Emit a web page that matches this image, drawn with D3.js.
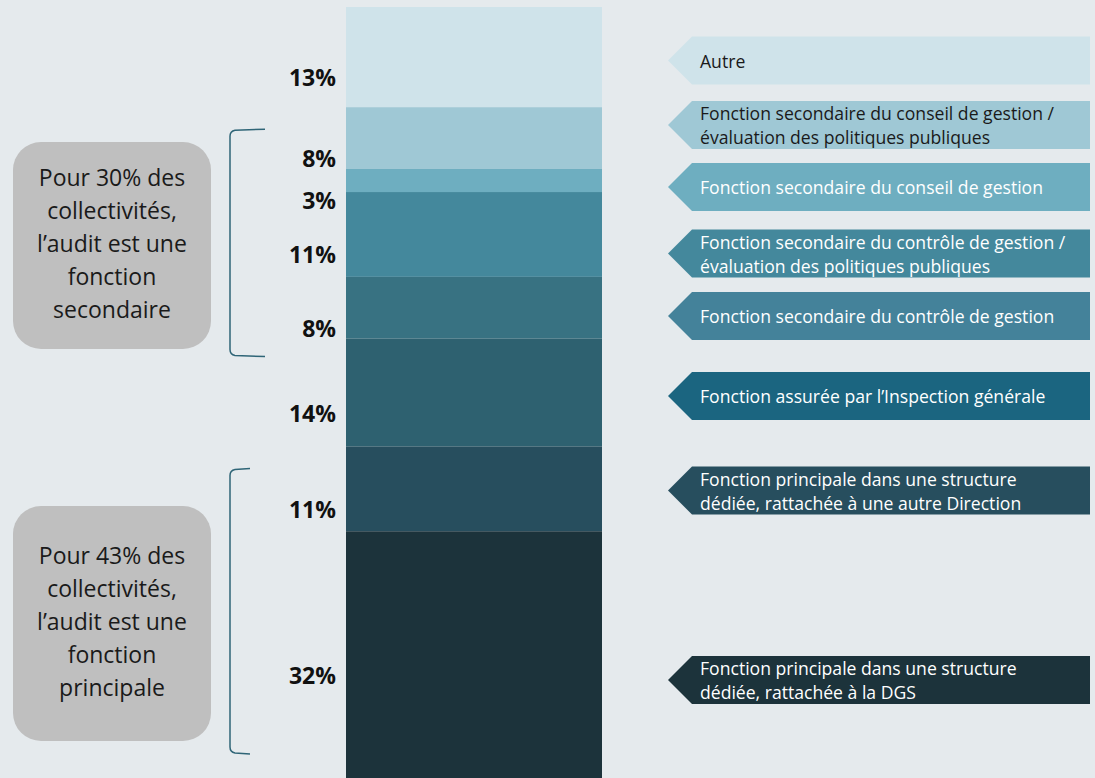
<!DOCTYPE html>
<html>
<head>
<meta charset="utf-8">
<script src="https://cdn.jsdelivr.net/npm/d3@7"></script>
<style>
  html, body { margin: 0; padding: 0; background: #e5eaed; }
  svg { display: block; }
</style>
</head>
<body>
<div id="chart"></div>
<script>
// ---- Data ----
const categories = [
  "Autre",
  "Fonction secondaire du conseil de gestion / évaluation des politiques publiques",
  "Fonction secondaire du conseil de gestion",
  "Fonction secondaire du contrôle de gestion / évaluation des politiques publiques",
  "Fonction secondaire du contrôle de gestion",
  "Fonction assurée par l’Inspection générale",
  "Fonction principale dans une structure dédiée, rattachée à une autre Direction",
  "Fonction principale dans une structure dédiée, rattachée à la DGS"
];
const legendLines = [
  ["Autre"],
  ["Fonction secondaire du conseil de gestion /", "évaluation des politiques publiques"],
  ["Fonction secondaire du conseil de gestion"],
  ["Fonction secondaire du contrôle de gestion /", "évaluation des politiques publiques"],
  ["Fonction secondaire du contrôle de gestion"],
  ["Fonction assurée par l’Inspection générale"],
  ["Fonction principale dans une structure", "dédiée, rattachée à une autre Direction"],
  ["Fonction principale dans une structure", "dédiée, rattachée à la DGS"]
];
const values = [13, 8, 3, 11, 8, 14, 11, 32];
const valueLabels = ["13%", "8%", "3%", "11%", "8%", "14%", "11%", "32%"];
const barColors = ["#cfe3ea", "#9fc8d5", "#6eaec0", "#44889c", "#387282", "#2e6170", "#274e5e", "#1c333b"];
const arrowColors = ["#cfe3ea", "#9fc8d5", "#6eaec0", "#44889c", "#44829a", "#1b6580", "#274e5e", "#1c333b"];
const arrowTextColors = ["#1a1a1a", "#1a1a1a", "#ffffff", "#ffffff", "#ffffff", "#ffffff", "#ffffff", "#ffffff"];
const groupTexts = [
  ["Pour 30% des", "collectivités,", "l’audit est une", "fonction", "secondaire"],
  ["Pour 43% des", "collectivités,", "l’audit est une", "fonction", "principale"]
];
const groupRanges = [[1, 4], [6, 7]]; // segment index ranges (inclusive)

// ---- Layout ----
const W = 1095, H = 778;
const FONT = "'Open Sans', 'DejaVu Sans', sans-serif";
const legendCenters = [60.5, 125, 187, 253.5, 316, 396, 490.5, 680];
const boxLayout = [{y: 142, h: 207}, {y: 506, h: 235}];

const svg = d3.select("#chart").append("svg").attr("width", W).attr("height", H);
svg.append("rect").attr("width", W).attr("height", H).attr("fill", "#e5eaed");

const y = d3.scaleLinear().domain([0, 100]).range([7, 778]);
const x = d3.scaleBand().domain(["bar"]).range([346, 602]).padding(0);

const ends = Array.from(d3.cumsum(values));
const segs = values.map((v, i) => ({v, i, start: ends[i] - v, end: ends[i]}));

// Bar segments
svg.append("g").selectAll("rect").data(segs).join("rect")
  .attr("x", x("bar"))
  .attr("width", x.bandwidth())
  .attr("y", d => y(d.start))
  .attr("height", d => y(d.end) - y(d.start))
  .attr("fill", d => barColors[d.i]);

// Value labels
svg.append("g").selectAll("text").data(segs).join("text")
  .attr("x", 336)
  .attr("y", d => y((d.start + d.end) / 2) + 20)
  .attr("text-anchor", "end")
  .attr("dominant-baseline", "central")
  .attr("font-family", FONT)
  .attr("font-weight", "bold")
  .attr("font-size", 23)
  .attr("fill", "#111")
  .text(d => valueLabels[d.i]);

// Legend arrows
const lg = svg.append("g").selectAll("g").data(segs).join("g");
lg.append("path")
  .attr("d", d => {
    const c = legendCenters[d.i];
    return `M668,${c} L692,${c - 24} L1090,${c - 24} L1090,${c + 24} L692,${c + 24} Z`;
  })
  .attr("fill", d => arrowColors[d.i]);
lg.each(function(d) {
  const lines = legendLines[d.i];
  const c = legendCenters[d.i];
  const lh = 24;
  const t = d3.select(this).append("text")
    .attr("font-family", FONT)
    .attr("font-size", 17.6)
    .attr("fill", arrowTextColors[d.i]);
  lines.forEach((ln, k) => {
    t.append("tspan")
      .attr("x", 700)
      .attr("y", c + (k - (lines.length - 1) / 2) * lh)
      .attr("dominant-baseline", "central")
      .text(ln);
  });
});

// Brackets and grey boxes
groupRanges.forEach((r, gi) => {
  const top = y(segs[r[0]].start) + 22;
  const bot = Math.min(y(segs[r[1]].end) + 18, H - 24);
  const x0 = 230, x1 = gi === 0 ? 265 : 250;
  svg.append("path")
    .attr("d", `M${x1},${top} L${x0 + 5},${top + 1} Q${x0},${top + 2} ${x0},${top + 7} L${x0},${bot - 7} Q${x0},${bot - 2} ${x0 + 5},${bot - 1} L${x1},${bot}`)
    .attr("fill", "none")
    .attr("stroke", "#2f6577")
    .attr("stroke-width", 1.5);

  const b = boxLayout[gi];
  svg.append("rect")
    .attr("x", 13).attr("y", b.y)
    .attr("width", 198).attr("height", b.h)
    .attr("rx", 28).attr("ry", 28)
    .attr("fill", "#bfbfbf");
  const cy = b.y + b.h / 2 - 3;
  const t = svg.append("text")
    .attr("text-anchor", "middle")
    .attr("font-family", FONT)
    .attr("font-size", 23)
    .attr("fill", "#1a1a1a");
  const lines = groupTexts[gi];
  lines.forEach((ln, k) => {
    t.append("tspan")
      .attr("x", 112)
      .attr("y", cy + (k - (lines.length - 1) / 2) * 33)
      .attr("dominant-baseline", "central")
      .text(ln);
  });
});
</script>
</body>
</html>
